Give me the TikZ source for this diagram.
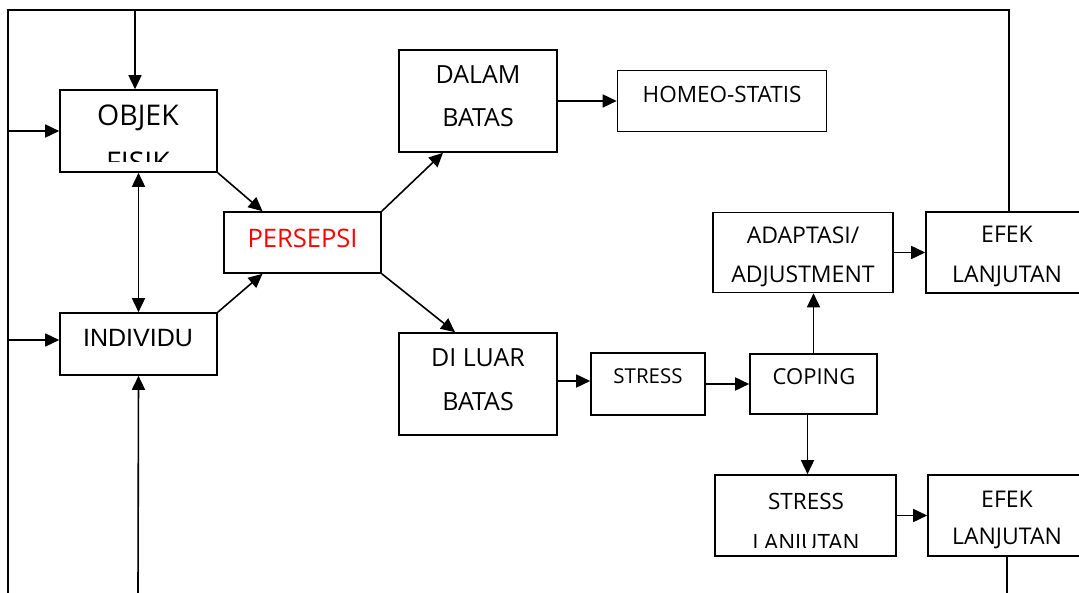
\documentclass[tikz,border=0pt]{standalone}
\usepackage{fontspec}
\setmainfont{Open Sans}
\newfontfamily\arialfont{Liberation Sans}
\usetikzlibrary{arrows.meta, positioning}

\begin{document}
\begin{tikzpicture}[
  x=1pt, y=-1pt,
  line width=1.6pt,
  box/.style={
    draw,
    rectangle,
    inner sep=0pt
  },
  txt/.style={anchor=base, inner sep=0pt},
  arrow/.style={-{Triangle[length=14pt, width=13pt]}},
  both/.style={{Triangle[length=14pt, width=13pt]}-{Triangle[length=14pt, width=13pt]}}
]
\useasboundingbox (0,0) rectangle (1079,593);

% boxes
\node[box, minimum width=157, minimum height=82] (objek) at (138.5,131) {};
\node[box, minimum width=157, minimum height=62] (individu) at (138.5,344) {};
\node[box, minimum width=157, minimum height=61] (persepsi) at (302.5,242.5) {};
\node[box, minimum width=158, minimum height=102] (dalam) at (478,101) {};
\node[box, minimum width=209, minimum height=61] (homeo) at (722,101) {};
\node[box, minimum width=158, minimum height=102] (diluar) at (478,384) {};
\node[box, minimum width=114, minimum height=62] (stress) at (648,384) {};
\node[box, minimum width=127, minimum height=60] (coping) at (813.5,384) {};
\node[box, minimum width=180, minimum height=80] (adaptasi) at (803,252.5) {};
\node[box, minimum width=164, minimum height=81] (efekatas) at (1008,252.5) {};
\node[box, minimum width=181, minimum height=81] (slanjut) at (805.5,515.5) {};
\node[box, minimum width=162, minimum height=81] (efekbawah) at (1009,515.5) {};

% texts
\begin{scope}
  \clip (60,90) rectangle (217,162);
  \node[txt, font=\fontsize{28.5}{28.5}\selectfont] (tobjek) at (138,126) {OBJEK};
  \node[txt, font=\fontsize{28.5}{28.5}\selectfont] (tfisik) at (138,173) {FISIK};
\end{scope}
\node[txt, font=\arialfont\fontsize{25}{25}\selectfont] (tindividu) at (138,347) {INDIVIDU};
\node[txt, text=red, font=\fontsize{25.5}{25.5}\selectfont] (tpersepsi) at (302.5,248) {PERSEPSI};
\node[txt, font=\fontsize{25}{25}\selectfont] (tdalam) at (478,84) {DALAM};
\node[txt, font=\fontsize{25}{25}\selectfont] (tbatas1) at (478,127) {BATAS};
\node[txt, font=\fontsize{22.5}{22.5}\selectfont] (thomeo) at (722,103) {HOMEO-STATIS};
\node[txt, font=\fontsize{25}{25}\selectfont] (tdiluar) at (478,367) {DI LUAR};
\node[txt, font=\fontsize{25}{25}\selectfont] (tbatas2) at (478,410) {BATAS};
\node[txt, font=\fontsize{20.5}{20.5}\selectfont] (tstress) at (648,384) {STRESS};
\node[txt, font=\fontsize{22}{22}\selectfont] (tcoping) at (814,385) {COPING};
\node[txt, font=\fontsize{23}{23}\selectfont] (tadaptasi) at (803,244) {ADAPTASI/};
\node[txt, font=\fontsize{23}{23}\selectfont] (tadjust) at (803,283) {ADJUSTMENT};
\node[txt, font=\fontsize{23}{23}\selectfont] (tefek1) at (1007,243) {EFEK};
\node[txt, font=\fontsize{23}{23}\selectfont] (tlanjut1) at (1007,283) {LANJUTAN};
\begin{scope}
  \clip (715,475) rectangle (896,547);
  \node[txt, font=\fontsize{22.5}{22.5}\selectfont] (tstress2) at (806,509) {STRESS};
  \node[txt, font=\fontsize{22.5}{22.5}\selectfont] (tlanjut2) at (806,550) {LANJUTAN};
\end{scope}
\node[txt, font=\fontsize{23}{23}\selectfont] (tefek2) at (1007,507) {EFEK};
\node[txt, font=\fontsize{23}{23}\selectfont] (tlanjut3) at (1007,544) {LANJUTAN};

% frame ends
\coordinate (kiribawah) at (8,593);
\coordinate (kiriatas) at (8,10);
\coordinate (kananatas) at (1009,10);
\coordinate (atasobjek) at (135,10);
\coordinate (kiriobjek) at (8,131);
\coordinate (kiriindividu) at (8,340);
\coordinate (bawahindividu) at (138,593);
\coordinate (bawahefek) at (1007,593);

% connectors
\draw (kiribawah) -- (kiriatas) -- (kananatas) -- (kananatas |- efekatas.north);
\draw[arrow] (atasobjek) -- (atasobjek |- objek.north);
\draw[arrow] (kiriobjek) -- (objek.west);
\draw[arrow] (kiriindividu) -- (kiriindividu -| individu.west);
\draw[arrow] (bawahindividu) -- (individu.south);
\draw[both] (objek.south) -- (individu.north);
\draw[arrow] (objek.south east) -- ([xshift=-40]persepsi.north);
\draw[arrow] (individu.north east) -- ([xshift=-40]persepsi.south);
\draw[arrow] (persepsi.north east) -- ([xshift=-35]dalam.south);
\draw[arrow] (persepsi.south east) -- ([xshift=-23]diluar.north);
\draw[arrow] (dalam.east) -- (homeo.west);
\draw[arrow] ([yshift=3]diluar.east) -- ([yshift=3]stress.west);
\draw[arrow] (stress.east) -- (coping.west);
\draw[arrow] (coping.north) -- (coping.north |- adaptasi.south);
\draw[arrow] (adaptasi.east) -- (efekatas.west);
\draw[arrow] ([xshift=-6]coping.south) -- ([xshift=-6]coping.south |- slanjut.north);
\draw[arrow] (slanjut.east) -- (efekbawah.west);
\draw (bawahefek |- efekbawah.south) -- (bawahefek);

\end{tikzpicture}
\end{document}
